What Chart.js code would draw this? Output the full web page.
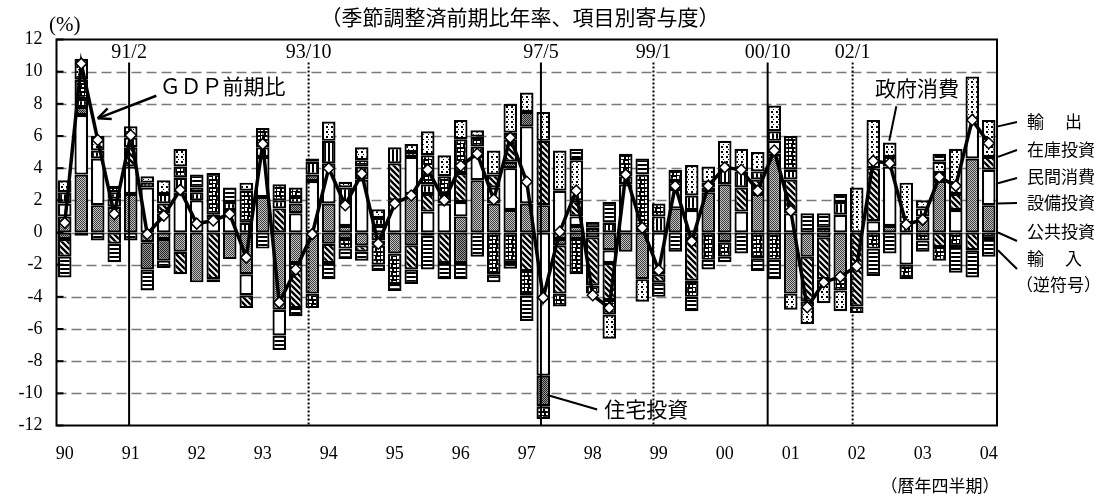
<!DOCTYPE html>
<html><head><meta charset="utf-8">
<script src="https://cdn.jsdelivr.net/npm/chart.js@4.4.1/dist/chart.umd.min.js"></script>
<style>html,body{margin:0;padding:0;background:#fff;}canvas{display:block;}</style>
</head><body>
<canvas id="c" width="1114" height="498"></canvas>
<script>
// ---- data (contributions, % annualized q/q) ----
const yearLabels = ['90','91','92','93','94','95','96','97','98','99','00','01','02','03','04'];
const quarters = [];
yearLabels.forEach(y => { for (let q = 1; q <= 4; q++) quarters.push(y + '/' + q); });
quarters.length = 57; // 1990Q1 .. 2004Q1

const capex      = [1.0,3.6,1.7,1.6,2.4,-0.6,-0.4,-1.2,-3.1,0,-1.65,-2.6,2.2,-4.8,-1.9,-3.8,1.8,0.4,-0.8,-0.5,-1.3,2.4,-0.2,0,1.0,3.25,1.8,1.4,1.8,1.7,-0.4,0.4,-0.3,-1.1,-1.2,-2.9,0,1.5,-0.4,2.5,3.0,0,2.4,4.9,-3.8,-1.5,-0.3,-2.8,0,0,0.4,0,1.0,3.2,0,4.6,1.7];
const consumption= [0.8,3.7,2.9,0.5,1.7,2.8,1.2,2.5,2.0,0.8,1.4,-1.3,2.5,-1.6,1.2,3.2,2.5,1.5,3.3,0.4,2.0,2.3,1.3,1.8,0.9,1.5,1.0,2.6,4.8,-8.9,2.6,0.6,0,-0.8,3.0,0,-2.6,1.2,1.4,0,0,1.3,0,0.8,1.2,0,0,1.1,0,0.7,3.7,-2.0,0,0,1.4,2.4,2.2];
const housing    = [-0.4,0.5,0,0,0,-1.7,-1.35,0,0,0,0,0,0,0,0.6,0.4,-0.7,-0.4,0,-0.3,0,-0.8,0,0,-1.9,0,0,0.4,0.9,-1.9,-0.4,-0.4,0,0,0,0,0,0,0,0,-0.6,0,0,0,0,0,0,0,0,0,0,0,0,0,0,0,0];
const inventory  = [-1.1,0,0,-0.7,1.2,0,0.6,-1.4,0,-2.9,0,-0.8,0,1.5,-2.8,0,-1.2,0,-0.4,0,2.3,-1.5,1.1,-1.9,1.8,0,0.8,1.4,-2.4,4.0,-3.0,1.0,-3.0,-2.3,0,0,-0.5,0,-2.6,0.3,0,1.5,0.9,0,2.1,-2.8,-2.6,0,-4.6,3.3,0,0,0,-0.9,1.0,-1.1,0.8];
const govCons    = [0.7,0.5,0.5,0.4,0.6,0.3,0.6,0.9,0.5,0.3,0.5,0.6,0.6,0.5,0.4,0.8,1.4,0.9,0.8,0.5,1.0,0.3,0.6,0.6,0.5,0.6,0,0.4,0,0,0,0,0.3,0.6,0.5,0.3,1.0,0.5,0.9,0.3,1.0,1.0,0.5,0.6,0.6,-0.3,0.3,0.8,0,0,0.6,0.6,0.5,0.5,0,0,0];
const publicInv  = [0,1.2,0,0.4,0,0,0,0.7,0,2.6,0,2.0,1.2,1.0,0.6,-0.9,0,-0.6,0.4,-1.2,-1.9,0,1.8,1.1,1.6,0.6,-2.6,-1.9,-1.5,-0.8,-0.8,-2.2,-0.5,-0.9,1.4,3.3,0.8,0.7,-1.0,-1.7,-0.9,0,-1.6,-1.7,2.1,0,0,-0.8,-0.4,-1.0,0,-0.9,-0.5,-0.85,-0.9,0,-0.4];
const exportsC   = [0.75,1.3,0.9,0,0.7,0.4,0.85,1.1,0.3,0,0,0.5,0,0,0,0.2,1.2,0.35,0.8,0.55,0,0.5,1.5,1.3,1.2,0.4,1.5,1.8,1.2,1.8,2.5,2.5,0,-1.5,0,-1.4,0,0,1.9,1.0,1.7,1.4,1.2,1.6,-1.0,-1.1,-1.5,-1.3,2.8,3.0,0.9,2.5,0.5,0.7,2.8,2.7,2.3];
const importsC   = [-1.3,-0.2,-0.5,-1.15,-0.5,-1.3,-0.45,0,0.8,-0.2,0.9,0,-1.0,-0.9,-0.5,0,-1.0,-0.65,-0.55,-0.4,-0.43,-0.9,-2.1,-1.0,-1.0,-1.5,-0.5,-0.35,-1.6,0,0,0.7,0.35,1.3,0,1.0,-0.9,-1.2,-0.9,-0.6,-0.35,-1.3,-0.8,-1.2,0,1.2,0.9,0.5,0,-1.7,-1.3,0,-0.7,0.5,-1.6,-1.7,-1.1];
const gdpGrowth  = [0.6,10.5,5.75,1.15,6.05,-0.1,1.05,2.65,0.55,0.75,1.15,-1.55,5.5,-4.35,-2.3,-0.1,4.0,1.7,3.65,-0.7,1.8,2.3,3.9,2.0,4.15,4.9,2.05,5.9,3.15,-4.05,0.05,2.6,-3.9,-4.7,3.6,0.3,-2.35,2.9,-0.55,2.9,4.05,3.9,2.6,5.1,1.35,-4.65,-3.1,-2.75,-2.1,4.45,4.3,0.5,0.8,3.45,2.9,7.0,5.55];

// business-cycle reference lines (position in quarter index units)
const refLabels = ['91/2','93/10','97/5','99/1','00/10','02/1'];
const refPos    = [3.9, 14.78, 28.86, 35.68, 42.6, 47.75];
const refDotted = [false, true, false, true, false, true];

// right-hand labels and the value on the last bar they point to
const sideLabels = ['輸 出','在庫投資','民間消費','設備投資','公共投資','輸 入'];
const sideValues = [6.6, 4.7, 3.06, 1.8, 0.0, -1.1];

// ---- patterns ----
const canvas = document.getElementById('c');
const ctx0 = canvas.getContext('2d');
function makePattern(w, h, draw) {
  const c = document.createElement('canvas'); c.width = w; c.height = h;
  const g = c.getContext('2d'); draw(g); return ctx0.createPattern(c, 'repeat');
}
const P = {
  cap: makePattern(2,2,g=>{g.fillStyle='#c4c4c4';g.fillRect(0,0,2,2);g.fillStyle='#3c3c3c';g.fillRect(0,0,1,1);g.fillRect(1,1,1,1);}),
  hou: makePattern(2,2,g=>{g.fillStyle='#999';g.fillRect(0,0,2,2);g.fillStyle='#222';g.fillRect(0,0,1,1);g.fillRect(1,1,1,1);}),
  con: '#ffffff',
  inv: makePattern(6,6,g=>{g.fillStyle='#fff';g.fillRect(0,0,6,6);g.strokeStyle='#000';g.lineWidth=2.4;g.beginPath();for(let k=-1;k<=1;k++){g.moveTo(k*6-1,-1);g.lineTo(k*6+7,7);}g.stroke();}),
  gov: makePattern(4,4,g=>{g.fillStyle='#fff';g.fillRect(0,0,4,4);g.fillStyle='#000';g.fillRect(0,0,2,4);}),
  pub: makePattern(8,8,g=>{g.fillStyle='#000';g.fillRect(0,0,8,8);g.fillStyle='#fff';g.fillRect(1,1,3,2);g.fillRect(5,0,2,3);g.fillRect(2,5,2,2);g.fillRect(5,5,3,2);}),
  exp: makePattern(5,5,g=>{g.fillStyle='#fff';g.fillRect(0,0,5,5);g.fillStyle='#000';g.fillRect(1,1,2,2);g.fillRect(3,4,1,1);}),
  imp: makePattern(4,4,g=>{g.fillStyle='#fff';g.fillRect(0,0,4,4);g.fillStyle='#000';g.fillRect(0,0,4,2);})
};

const nz = a => a.map(v => v === 0 ? null : v);
function barSet(label, data, fill) {
  return { type:'bar', label, data: nz(data), backgroundColor: fill, borderColor:'#000',
    borderWidth: 2.2, borderSkipped: false, categoryPercentage: 1.0, barPercentage: 0.82, order: 1 };
}

const SERIF = "'Liberation Serif','Noto Sans CJK JP',serif";
const JP = "'Noto Sans CJK JP',sans-serif";

function text(ctx, s, x, y, font, align) {
  ctx.font = font; ctx.textAlign = align || 'left'; ctx.textBaseline = 'middle'; ctx.fillStyle = '#000';
  ctx.fillText(s, x, y);
}
function line(ctx, x1, y1, x2, y2, w) {
  ctx.beginPath(); ctx.lineWidth = w; ctx.strokeStyle = '#000'; ctx.moveTo(x1,y1); ctx.lineTo(x2,y2); ctx.stroke();
}

const deco = {
  id: 'deco',
  beforeDatasetsDraw(chart) {
    const {ctx, chartArea:a, scales:{y}} = chart;
    ctx.save();
    ctx.strokeStyle = '#7a7a7a'; ctx.lineWidth = 1.3; ctx.setLineDash([10,5]);
    for (let v = -10; v <= 10; v += 2) {
      const py = Math.round(y.getPixelForValue(v)) + 0.5;
      ctx.beginPath(); ctx.moveTo(a.left, py); ctx.lineTo(a.right, py); ctx.stroke();
    }
    ctx.restore();
  },
  beforeDatasetDraw(chart, args) {
    if (args.meta.type !== 'line') return;
    const {ctx, chartArea:a, scales:{x}} = chart;
    ctx.save();
    refPos.forEach((p, i) => {
      const px = x.getPixelForValue(p);
      ctx.setLineDash(refDotted[i] ? [2,2] : []);
      line(ctx, px, a.top + 23, px, a.bottom, 2);
    });
    ctx.restore();
  },
  afterDraw(chart) {
    const {ctx, chartArea:a, scales:{x, y}} = chart;
    ctx.save();
    ctx.setLineDash([]);
    ctx.lineWidth = 2; ctx.strokeStyle = '#000';
    ctx.strokeRect(a.left, a.top, a.right - a.left, a.bottom - a.top);
    for (let v = -12; v <= 12; v += 2) {
      const py = y.getPixelForValue(v);
      line(ctx, a.left, py, a.left + 7, py, 2);
    }
    refPos.forEach((p, i) => text(ctx, refLabels[i], x.getPixelForValue(p), a.top + 13, '20px ' + SERIF, 'center'));
    text(ctx, '（季節調整済前期比年率、項目別寄与度）', 520, 17, '21px ' + JP, 'center');
    text(ctx, '(%)', 49, 25, '21px ' + SERIF, 'left');
    text(ctx, '（暦年四半期）', 940, 486, '17px ' + JP, 'center');
    const tx = x.getPixelForValue(2.0), ty = y.getPixelForValue(7.1);
    const sx = x.getPixelForValue(5.55), sy = y.getPixelForValue(8.5);
    line(ctx, sx, sy, tx, ty, 2.5);
    const ang = Math.atan2(ty - sy, tx - sx);
    [0.42, -0.42].forEach(d => line(ctx, tx, ty, tx - 14*Math.cos(ang + d), ty - 14*Math.sin(ang + d), 2.5));
    text(ctx, 'ＧＤＰ前期比', x.getPixelForValue(5.75), y.getPixelForValue(9.1), '21px ' + JP);
    line(ctx, x.getPixelForValue(50.4), y.getPixelForValue(7.85), x.getPixelForValue(49.97), y.getPixelForValue(5.7), 2);
    text(ctx, '政府消費', x.getPixelForValue(49.1), y.getPixelForValue(9.0), '21px ' + JP);
    line(ctx, x.getPixelForValue(29.24), y.getPixelForValue(-10.1), x.getPixelForValue(32.27), y.getPixelForValue(-11.0), 2);
    text(ctx, '住宅投資', x.getPixelForValue(32.7), y.getPixelForValue(-11.0), '21px ' + JP);
    const ty0 = [122, 150, 177, 203, 232, 259];
    const endOff = [0, 0, 1, 0, 9, 10];
    sideLabels.forEach((s, i) => {
      const by = y.getPixelForValue(sideValues[i]);
      line(ctx, a.right + 1, by, a.right + 20, ty0[i] + endOff[i], 2);
      if (s.includes(' ')) {
        const [c1, c2] = s.split(' ');
        text(ctx, c1, 1027, ty0[i], '17px ' + JP);
        text(ctx, c2, 1065, ty0[i], '17px ' + JP);
      } else text(ctx, s, 1027, ty0[i], '17px ' + JP);
    });
    text(ctx, '（逆符号）', 1016, 285, '17px ' + JP);
    ctx.restore();
  }
};

new Chart(canvas, {
  data: {
    labels: quarters,
    datasets: [
      { type:'line', label:'GDP前期比', data: gdpGrowth, stack:'gdp', order: 0,
        borderColor:'#000', borderWidth: 3.5, tension: 0,
        pointStyle:'rectRot', pointRadius: 5.5, pointBackgroundColor:'#fff', pointBorderColor:'#000', pointBorderWidth: 1.5 },
      barSet('設備投資', capex, P.cap),
      barSet('民間消費', consumption, P.con),
      barSet('住宅投資', housing, P.hou),
      barSet('在庫投資', inventory, P.inv),
      barSet('政府消費', govCons, P.gov),
      barSet('公共投資', publicInv, P.pub),
      barSet('輸出', exportsC, P.exp),
      barSet('輸入', importsC, P.imp)
    ]
  },
  options: {
    responsive: false, animation: false, devicePixelRatio: 1,
    layout: { padding: { left: 0, top: 39.5, right: 117, bottom: 0 } },
    plugins: { legend: { display: false }, tooltip: { enabled: false } },
    scales: {
      x: { stacked: true, offset: true,
        grid: { display: false, drawTicks: false }, border: { display: false },
        ticks: { autoSkip: false, maxRotation: 0, padding: 18, color:'#000',
          font: { family: SERIF, size: 18 },
          callback: (v, i) => (i % 4 === 0 ? yearLabels[i / 4] : '') },
        afterFit: s => { s.height = 72.5; } },
      y: { stacked: true, min: -12, max: 12,
        grid: { display: false, drawTicks: false }, border: { display: false },
        ticks: { stepSize: 2, padding: 14, color:'#000', font: { family: SERIF, size: 18 } },
        afterFit: s => { s.width = 56.5; } }
    }
  },
  plugins: [deco]
});
</script>
</body></html>
